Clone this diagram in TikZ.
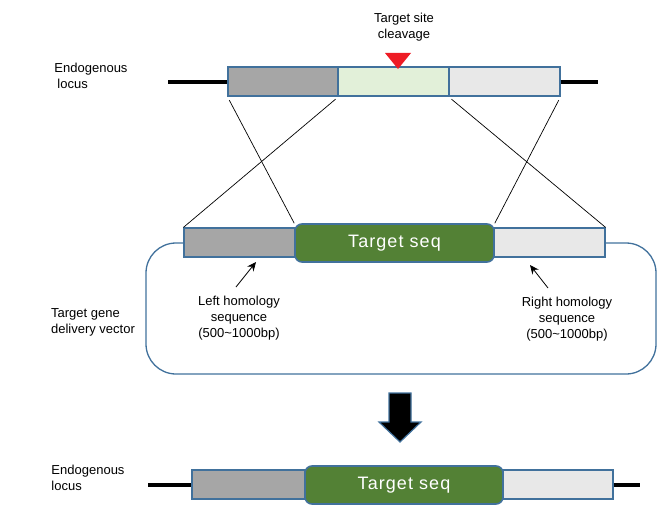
\documentclass[tikz,border=0pt]{standalone}
\usepackage{fontspec}
\setmainfont{Liberation Sans}
\newfontfamily\seqfont[LetterSpace=6]{Liberation Sans}
\usetikzlibrary{arrows.meta}

\definecolor{homL}{HTML}{A6A6A6}
\definecolor{homR}{HTML}{E8E8E8}
\definecolor{cut}{HTML}{E2F0D9}
\definecolor{insert}{HTML}{538135}
\definecolor{rim}{HTML}{41719C}
\definecolor{site}{HTML}{EE1C25}

\begin{document}
\begin{tikzpicture}
	[
	x=1pt, y=-1pt,
	align=center,
	font=\fontsize{13}{16}\selectfont,
	node/.style={},
	seg/.style={draw=rim, line width=1.2pt, inner sep=0pt, minimum height=29pt},
	left/.style={seg, fill=homL},
	right/.style={seg, fill=homR},
	mid/.style={seg, fill=cut},
	seq/.style={draw=rim, line width=1.6pt, fill=insert, rounded corners=7pt, inner sep=0pt,
		minimum height=38pt, text=white, font=\seqfont\fontsize{18}{20}\selectfont},
	locus/.style={line width=4pt},
	cross/.style={line width=0.7pt, shorten <=4pt},
	pointer/.style={line width=0.8pt, -{Stealth[length=9pt,width=8pt]}},
	]
		\useasboundingbox (0,0) rectangle (661,519);
		
		% endogenous locus
		\node[node, align=left] (el) at 		( 91.0,  76.0 ) {Endogenous\\\hspace{3pt}locus};
		\node[node] (cl) at 		(404.0,  27.0 ) {Target site\\cleavage};
		\node[left, minimum width=110pt] (tl) at 		(283.0,  81.5 ) {};
		\node[mid, minimum width=111pt] (tc) at 		(393.5,  81.5 ) {};
		\node[right, minimum width=111pt] (tr) at 		(504.5,  81.5 ) {};
		\coordinate (ea) at 		(168.0,  81.5 );
		\coordinate (eb) at 		(598.0,  81.5 );
		\fill[site] (385,53) -- (411,53) -- (398,69) -- cycle;
		
		% delivery vector
		\node[node, draw=rim, line width=1.3pt, rounded corners=30pt, minimum width=510pt, minimum height=131pt] (vec) at 		(401.0, 308.5 ) {};
		\node[node, align=left] (dv) at 		( 93.0, 322.0 ) {Target gene\\delivery vector};
		\node[left, minimum width=111pt] (ml) at 		(239.5, 242.5 ) {};
		\node[right, minimum width=111pt] (mr) at 		(549.5, 242.5 ) {};
		\node[seq, minimum width=199pt] (mt) at 		(394.5, 243.0 ) {Target seq};
		\node[node] (lh) at 		(239.0, 318.0 ) {Left homology\\sequence\\(500\textasciitilde1000bp)};
		\node[node] (rh) at 		(567.0, 319.0 ) {Right homology\\sequence\\(500\textasciitilde1000bp)};
		\coordinate (la) at 		(236.0, 287.0 );
		\coordinate (lb) at 		(256.0, 262.0 );
		\coordinate (ra) at 		(548.0, 288.0 );
		\coordinate (rb) at 		(530.0, 265.0 );
		
		% result
		\draw[rim, line width=1.2pt, fill=black] (389,393) -- (411,393) -- (411,422) -- (421,422)
			-- (400,442) -- (379,422) -- (389,422) -- cycle;
		\node[node, align=left] (bel) at 		( 88.0, 478.0 ) {Endogenous\\locus};
		\node[left, minimum width=113pt] (bl) at 		(248.5, 484.5 ) {};
		\node[right, minimum width=110pt] (br) at 		(558.0, 484.5 ) {};
		\node[seq, minimum width=198pt] (bt) at 		(404.0, 485.0 ) {Target seq};
		\coordinate (ba) at 		(148.0, 484.5 );
		\coordinate (bb) at 		(640.0, 484.5 );
		
		\foreach \from/\to in {ea/tl.west,tr.east/eb,ba/bl.west,br.east/bb} \draw[locus] (\from) -- (\to);
		\foreach \from/\to in {tl.south west/mt.north west,tl.south east/ml.north west,tr.south west/mr.north east,tr.south east/mt.north east} \draw[cross] (\from) -- (\to);
		\foreach \from/\to in {la/lb,ra/rb} \draw[pointer] (\from) -- (\to);
		
	\end{tikzpicture}
\end{document}
